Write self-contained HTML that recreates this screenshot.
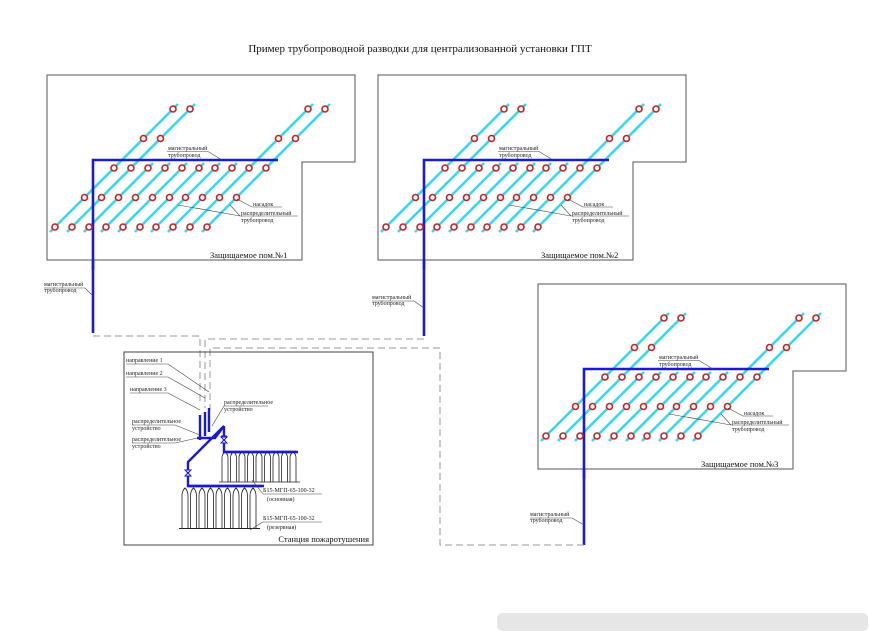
<!DOCTYPE html>
<html><head><meta charset="utf-8"><style>
body{margin:0;background:#fff;}
svg{display:block;font-family:"Liberation Serif",serif;}
</style></head><body>
<svg width="870" height="633" viewBox="0 0 870 633" xmlns="http://www.w3.org/2000/svg">
<defs>
<g id="n"><circle r="3" fill="#fff" stroke="#c82020" stroke-width="1.6"/></g>
<g id="room">
 <path d="M47,75 H355 V162 H302 V260 H47 Z" fill="none" stroke="#555" stroke-width="1"/>
 <g stroke="#3ad8ec" stroke-width="2.6">
  <line x1="50" y1="232" x2="178" y2="104"/>
  <line x1="67" y1="232" x2="195" y2="104"/>
  <line x1="84" y1="232" x2="153" y2="163"/>
  <line x1="101" y1="232" x2="170" y2="163"/>
  <line x1="118" y1="232" x2="187" y2="163"/>
  <line x1="135" y1="232" x2="204" y2="163"/>
  <line x1="151" y1="232" x2="220" y2="163"/>
  <line x1="168" y1="232" x2="237" y2="163"/>
  <line x1="185" y1="232" x2="313" y2="104"/>
  <line x1="202" y1="232" x2="330" y2="104"/>
 </g>
 <path d="M93,270 V160 H278" fill="none" stroke="#1a1ad0" stroke-width="2.6"/>
 <g>
  <use href="#n" x="55" y="227"/><use href="#n" x="84.5" y="197.5"/><use href="#n" x="114" y="168"/><use href="#n" x="143.5" y="138.5"/><use href="#n" x="173" y="109"/>
  <use href="#n" x="72" y="227"/><use href="#n" x="101.5" y="197.5"/><use href="#n" x="131" y="168"/><use href="#n" x="160.5" y="138.5"/><use href="#n" x="190" y="109"/>
  <use href="#n" x="89" y="227"/><use href="#n" x="118.5" y="197.5"/><use href="#n" x="148" y="168"/>
  <use href="#n" x="106" y="227"/><use href="#n" x="135.5" y="197.5"/><use href="#n" x="165" y="168"/>
  <use href="#n" x="123" y="227"/><use href="#n" x="152.5" y="197.5"/><use href="#n" x="182" y="168"/>
  <use href="#n" x="140" y="227"/><use href="#n" x="169.5" y="197.5"/><use href="#n" x="199" y="168"/>
  <use href="#n" x="156" y="227"/><use href="#n" x="185.5" y="197.5"/><use href="#n" x="215" y="168"/>
  <use href="#n" x="173" y="227"/><use href="#n" x="202.5" y="197.5"/><use href="#n" x="232" y="168"/>
  <use href="#n" x="190" y="227"/><use href="#n" x="219.5" y="197.5"/><use href="#n" x="249" y="168"/><use href="#n" x="278.5" y="138.5"/><use href="#n" x="308" y="109"/>
  <use href="#n" x="207" y="227"/><use href="#n" x="236.5" y="197.5"/><use href="#n" x="266" y="168"/><use href="#n" x="295.5" y="138.5"/><use href="#n" x="325" y="109"/>
 </g>
 <g stroke="#444" stroke-width="0.6" fill="none">
  <path d="M167,151.5 H208 L222,160"/>
  <path d="M237,199 L252,207 H282"/>
  <path d="M178,205 L240,216 M196,208 L240,216 M230,205 L240,216 H298"/>
 </g>
 <g font-size="6" fill="#222">
  <text x="168" y="150">магистральный</text><text x="168" y="157">трубопровод</text>
  <text x="253" y="206">насадок</text>
  <text x="241" y="215">распределительный</text><text x="241" y="222">трубопровод</text>
 </g>
</g>
<g id="cyl"><path d="M0,30 V6 Q0,2 3,0 Q6,2 6,6 V30" fill="#fff" stroke="#222" stroke-width="0.8"/></g>
</defs>

<text x="420" y="52" font-size="11" text-anchor="middle" fill="#111">Пример трубопроводной разводки  для централизованной установки ГПТ</text>

<use href="#room"/>
<use href="#room" transform="translate(331,0)"/>
<use href="#room" transform="translate(491,209)"/>

<g font-size="8.5" fill="#111">
 <text x="210" y="258">Защищаемое пом.№1</text>
 <text x="541" y="258">Защищаемое пом.№2</text>
 <text x="701" y="467">Защищаемое пом.№3</text>
</g>

<!-- main pipes down -->
<g stroke="#1a1ad0" stroke-width="2.6" fill="none">
 <path d="M93,260 V333"/>
 <path d="M424,260 V336"/>
 <path d="M584,469 V545"/>
</g>
<g stroke="#444" stroke-width="0.6" fill="none">
 <path d="M44,288 H85 L93,296"/>
 <path d="M372,301 H414 L424,308"/>
 <path d="M530,518 H572 L584,525"/>
</g>
<g font-size="6" fill="#222">
 <text x="44" y="286">магистральный</text><text x="44" y="292">трубопровод</text>
 <text x="372" y="299">магистральный</text><text x="372" y="305">трубопровод</text>
 <text x="530" y="516">магистральный</text><text x="530" y="522">трубопровод</text>
</g>

<!-- dashed connections -->
<g stroke="#999" stroke-width="1" fill="none" stroke-dasharray="7,4">
 <path d="M93,336 H200 V405"/>
 <path d="M424,339 H205 V408"/>
 <path d="M584,545 H440 V348 H210 V410"/>
</g>

<!-- station -->
<rect x="124" y="352" width="249" height="193" fill="none" stroke="#444" stroke-width="1"/>
<text x="369" y="542" font-size="8.5" text-anchor="end" fill="#111">Станция пожаротушения</text>

<g stroke="#1a1ad0" stroke-width="2.4" fill="none">
 <path d="M200,415 V440 M205,412 V436 M209,408 V432"/>
 <path d="M197,438 H215 L224,426 L188,462 V486 H262"/>
 <path d="M224,426 V452 H296"/>
</g>
<g stroke="#1a1ad0" stroke-width="1" fill="#fff">
 <path d="M221,437 L227,443 H221 L227,437 Z"/>
 <path d="M185,470 L191,476 H185 L191,470 Z"/>
 <path d="M221,436 H227"/>
</g>
<g transform="translate(222,452)">
 <use href="#cyl" x="0" y="0"/><use href="#cyl" x="8.5" y="0"/><use href="#cyl" x="17" y="0"/><use href="#cyl" x="25.5" y="0"/><use href="#cyl" x="34" y="0"/><use href="#cyl" x="42.5" y="0"/><use href="#cyl" x="51" y="0"/><use href="#cyl" x="59.5" y="0"/><use href="#cyl" x="68" y="0"/>
 <line x1="-3" y1="30" x2="78" y2="30" stroke="#222" stroke-width="0.8"/>
</g>
<g transform="translate(182,488) scale(1,1.35)">
 <use href="#cyl" x="0" y="0"/><use href="#cyl" x="8.5" y="0"/><use href="#cyl" x="17" y="0"/><use href="#cyl" x="25.5" y="0"/><use href="#cyl" x="34" y="0"/><use href="#cyl" x="42.5" y="0"/><use href="#cyl" x="51" y="0"/><use href="#cyl" x="59.5" y="0"/><use href="#cyl" x="68" y="0"/>
 <line x1="-3" y1="30" x2="78" y2="30" stroke="#222" stroke-width="0.8"/>
</g>
<g stroke="#1a1ad0" stroke-width="2.4">
 <line x1="188" y1="486" x2="264" y2="486"/>
 <line x1="224" y1="452" x2="298" y2="452"/>
</g>

<g stroke="#444" stroke-width="0.6" fill="none">
 <path d="M126,364 H168 L209,392"/>
 <path d="M126,377 H168 L205,398"/>
 <path d="M130,393 H168 L200,410"/>
 <path d="M224,406 H268 M224,406 L212,426"/>
 <path d="M132,425 H175 L200,435"/>
 <path d="M132,443 H175 L202,437"/>
 <path d="M263,494 H322 M263,494 L252,480"/>
 <path d="M263,522 H322 M263,522 L250,530"/>
</g>
<g font-size="6" fill="#222">
 <text x="126" y="362">направление 1</text>
 <text x="126" y="375">направление 2</text>
 <text x="130" y="391">направление 3</text>
 <text x="224" y="404">распределительное</text><text x="224" y="411">устройство</text>
 <text x="132" y="423">распределительное</text><text x="132" y="430">устройство</text>
 <text x="132" y="441">распределительное</text><text x="132" y="448">устройство</text>
 <text x="263" y="492">Б15-МГП-65-100-32</text><text x="267" y="501">(основная)</text>
 <text x="263" y="520">Б15-МГП-65-100-32</text><text x="267" y="529">(резервная)</text>
</g>

<rect x="497" y="613" width="371" height="18" rx="5" fill="#e6e6e6"/>
</svg>
</body></html>
